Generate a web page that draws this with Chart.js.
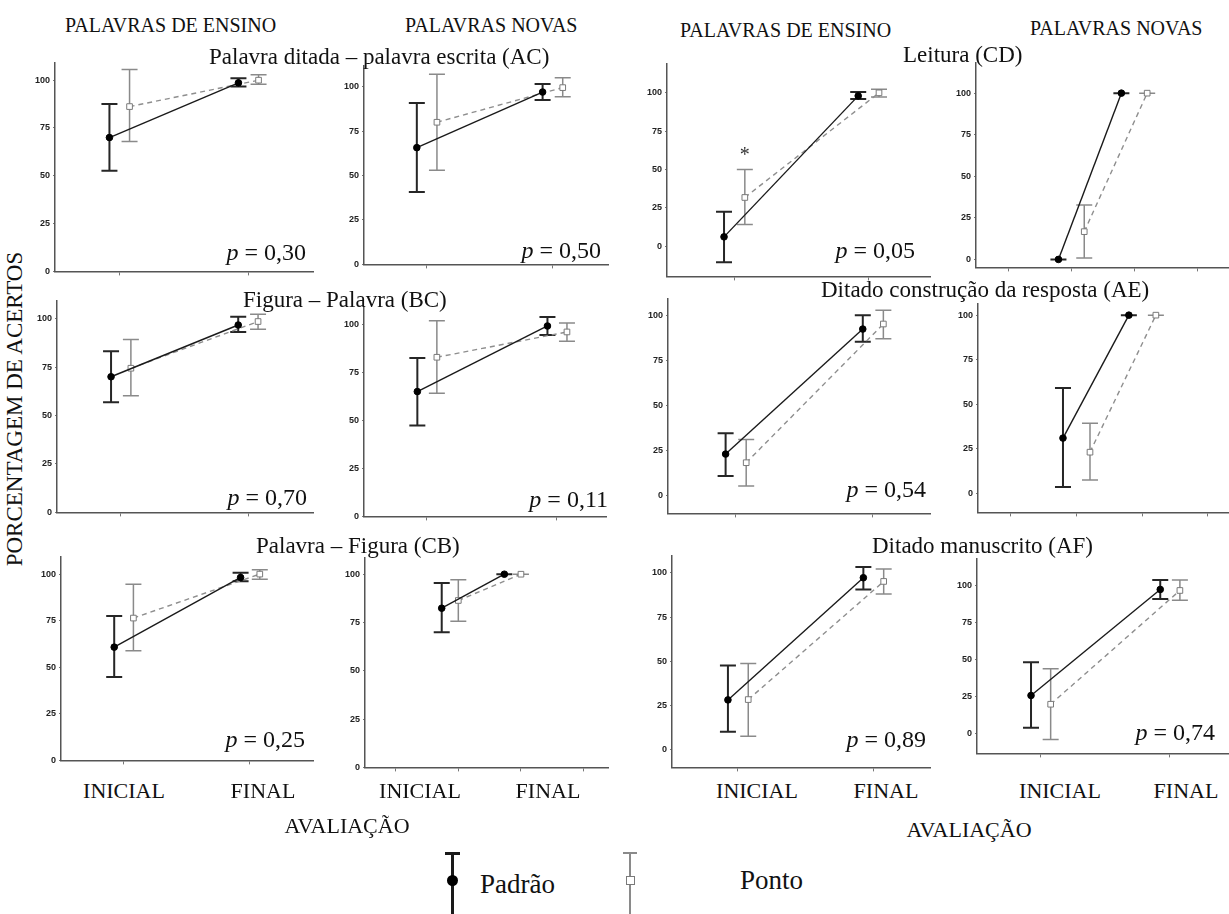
<!DOCTYPE html>
<html lang="pt">
<head>
<meta charset="utf-8">
<script src="https://cdn.jsdelivr.net/npm/chart.js@4.4.1/dist/chart.umd.min.js"></script>
<style>
  body { margin: 0; width: 1229px; height: 914px; background: #fff; position: relative; overflow: hidden;
         font-family: 'Liberation Serif', 'Times New Roman', serif; color: #111; }
  .painel { position: absolute; }
  .painel canvas { display: block; }
  .txt { position: absolute; white-space: nowrap; line-height: 1; }
  .leg { position: absolute; }
</style>
</head>
<body>
<script>
// avaliações e escala do eixo y
const categorias = ['INICIAL', 'FINAL'];
const yTicks = [0, 25, 50, 75, 100];

// médias e intervalos por painel, [INICIAL, FINAL]
// ordem: AC ensino, AC novas, CD ensino, CD novas, BC ensino, BC novas,
//        AE ensino, AE novas, CB ensino, CB novas, AF ensino, AF novas
const padraoMedia = [[70, 98.6], [65.7, 97], [6, 98], [0, 100], [70, 96.7], [65.1, 99.3],
                     [23.1, 92.4], [31, 100], [60.8, 98.2], [82.4, 100], [28.2, 97.2], [25.9, 97.3]];
const padraoBaixo = [[52.7, 96.7], [40.8, 92.5], [-10.6, 95.9], [0, 100], [56.8, 93.1], [47.4, 94.6],
                     [10.9, 85.4], [3.6, 100], [44.7, 96.2], [70, 100], [10.2, 90.6], [4.1, 90.8]];
const padraoAlto  = [[87.6, 101], [90.8, 101.6], [22.4, 100.6], [0, 100], [83.1, 100.9], [82.6, 104],
                     [34.6, 100], [59.1, 100], [77.5, 100.7], [95.5, 100], [47.6, 103.2], [48.2, 103.6]];
const pontoMedia  = [[86.2, 100], [80, 99.5], [31.7, 100], [16.7, 100], [74.4, 98.5], [83, 96.2],
                     [18.3, 95.2], [23.1, 100], [76.4, 100], [86.4, 100], [28.4, 95.1], [20, 96.6]];
const pontoBaixo  = [[67.9, 97.9], [53, 94.4], [14, 97.2], [0.8, 100], [60.2, 94.5], [64.2, 91.3],
                     [5.4, 87], [7.5, 100], [58.9, 97.3], [75.7, 100], [7.7, 88], [-3.8, 90.1]];
const pontoAlto   = [[105.6, 102.8], [107, 105], [50, 102.4], [32.7, 100], [89.2, 102.2], [102.1, 100.9],
                     [31.2, 102.8], [39.4, 100], [94.5, 102.3], [97.1, 100], [48.7, 102.1], [43.9, 103.6]];
const valoresP = ['0,30', '0,50', '0,05', null, '0,70', '0,11', '0,54', null, '0,25', null, '0,89', '0,74'];
const significativos = [{ painel: 2, serie: 1, avaliacao: 0 }];

// área de plotagem de cada painel (px) e faixas dos eixos
const paineis = [
  { x: 55,  y: 62,  w: 258, h: 209, yMin: 0,     yMax: 109.3, xMin: 0.5,   xMax: 2.5,  xTicks: [1, 2],       desloc: [-0.078, 0.078] },
  { x: 364, y: 65,  w: 244, h: 199, yMin: 0,     yMax: 112,   xMin: 0.5,   xMax: 2.44, xTicks: [1, 2],       desloc: [-0.08, 0.08] },
  { x: 667, y: 63,  w: 263, h: 213, yMin: -19.8, yMax: 119.2, xMin: 0.5,   xMax: 2.46, xTicks: [1, 2],       desloc: [-0.075, 0.08] },
  { x: 976, y: 62,  w: 253, h: 205, yMin: -4.8,  yMax: 118.5, xMin: -0.52, xMax: 3.5,  xTicks: [0, 1, 2, 3], desloc: [-0.21, 0.2] },
  { x: 57,  y: 300, w: 256, h: 212, yMin: 0,     yMax: 109.4, xMin: 0.497, xMax: 2.51, xTicks: [1, 2],       desloc: [-0.078, 0.078] },
  { x: 364, y: 307, w: 242, h: 209, yMin: 0,     yMax: 109,   xMin: 0.52,  xMax: 2.38, xTicks: [1, 2],       desloc: [-0.07, 0.08] },
  { x: 668, y: 298, w: 262, h: 215, yMin: -9.8,  yMax: 109.4, xMin: 0.51,  xMax: 2.42, xTicks: [1, 2],       desloc: [-0.07, 0.08] },
  { x: 978, y: 303, w: 251, h: 209, yMin: -10.7, yMax: 106.6, xMin: -0.49, xMax: 3.32, xTicks: [0, 1, 2, 3], desloc: [-0.2, 0.21] },
  { x: 61,  y: 556, w: 252, h: 204, yMin: 0,     yMax: 109.5, xMin: 0.506, xMax: 2.5,  xTicks: [1, 2],       desloc: [-0.073, 0.079] },
  { x: 365, y: 557, w: 243, h: 210, yMin: 0,     yMax: 108.7, xMin: -0.49, xMax: 3.39, xTicks: [0, 1, 2, 3], desloc: [-0.265, 0] },
  { x: 672, y: 555, w: 258, h: 212, yMin: -9.9,  yMax: 109.8, xMin: 0.515, xMax: 2.42, xTicks: [1, 2],       desloc: [-0.072, 0.078] },
  { x: 977, y: 558, w: 252, h: 195, yMin: -13.1, yMax: 118.2, xMin: 0.51,  xMax: 2.46, xTicks: [1, 2],       desloc: [-0.072, 0.08] }
];
// posição do texto "p = ..." (borda direita, linha de base)
const posP = [[306, 260], [601, 258], [915, 258], null, [307, 505], [608, 507], [926, 497], null,
              [305, 747], null, [926, 747], [1215, 740]];

const estilos = [
  { linha: '#1a1a1a', erro: '#262626', larguraErro: 2, dash: [], ponto: 'circle', raio: 3.3, fundo: '#000', borda: '#000' },
  { linha: '#8e8e8e', erro: '#8a8a8a', larguraErro: 1.5, dash: [5, 4], ponto: 'rect', raio: 4, fundo: '#fff', borda: '#7a7a7a' }
];

// barras de erro com traço no topo e na base
const barrasErro = {
  id: 'barrasErro',
  beforeDatasetsDraw(chart) {
    const { ctx, scales: { x, y } } = chart;
    chart.data.datasets.forEach(ds => {
      ds.erros.forEach((e, j) => {
        const px = x.getPixelForValue(ds.data[j].x);
        const top = y.getPixelForValue(e[1]);
        const bot = y.getPixelForValue(e[0]);
        ctx.save();
        ctx.strokeStyle = ds.corErro;
        ctx.lineWidth = ds.larguraErro;
        ctx.beginPath();
        ctx.moveTo(px, top); ctx.lineTo(px, bot);
        ctx.moveTo(px - 8, top); ctx.lineTo(px + 8, top);
        ctx.moveTo(px - 8, bot); ctx.lineTo(px + 8, bot);
        ctx.stroke();
        ctx.restore();
      });
    });
  }
};

// asterisco sobre a diferença significativa
const asterisco = {
  id: 'asterisco',
  afterDatasetsDraw(chart, args, opts) {
    const { ctx, scales: { x, y } } = chart;
    (opts.marcas || []).forEach(m => {
      const ds = chart.data.datasets[m.serie];
      const px = x.getPixelForValue(ds.data[m.avaliacao].x);
      const py = y.getPixelForValue(ds.erros[m.avaliacao][1]);
      ctx.save();
      ctx.fillStyle = '#333';
      ctx.font = '20px "Liberation Serif"';
      ctx.textAlign = 'center';
      ctx.textBaseline = 'alphabetic';
      ctx.fillText('*', px, py - 8);
      ctx.restore();
    });
  }
};

function criarPainel(i) {
  const L = paineis[i];
  const series = [
    { nome: 'Padrão', media: padraoMedia[i], baixo: padraoBaixo[i], alto: padraoAlto[i] },
    { nome: 'Ponto', media: pontoMedia[i], baixo: pontoBaixo[i], alto: pontoAlto[i] }
  ];
  const datasets = series.map((s, k) => ({
    label: s.nome,
    data: categorias.map((c, j) => ({ x: j + 1 + L.desloc[k], y: s.media[j] })),
    erros: categorias.map((c, j) => [s.baixo[j], s.alto[j]]),
    showLine: true,
    borderColor: estilos[k].linha,
    borderWidth: 1.4,
    borderDash: estilos[k].dash,
    pointStyle: estilos[k].ponto,
    pointRadius: estilos[k].raio,
    pointBackgroundColor: estilos[k].fundo,
    pointBorderColor: estilos[k].borda,
    pointBorderWidth: 1,
    corErro: estilos[k].erro,
    larguraErro: estilos[k].larguraErro,
    clip: false
  }));

  const wrap = document.createElement('div');
  wrap.className = 'painel';
  const cv = document.createElement('canvas');
  cv.width = L.w + 40;
  cv.height = L.h + 30;
  wrap.appendChild(cv);
  document.body.appendChild(wrap);

  const chart = new Chart(cv, {
    type: 'scatter',
    data: { datasets },
    options: {
      responsive: false,
      maintainAspectRatio: false,
      animation: false,
      events: [],
      layout: { padding: { top: 8, right: 2 } },
      plugins: {
        legend: { display: false },
        tooltip: { enabled: false },
        asterisco: { marcas: significativos.filter(m => m.painel === i) }
      },
      scales: {
        x: {
          type: 'linear', min: L.xMin, max: L.xMax,
          afterBuildTicks: s => { s.ticks = L.xTicks.map(v => ({ value: v })); },
          afterFit: s => { s.height = 6; },
          ticks: { display: false },
          grid: { drawOnChartArea: false, tickLength: 4, color: '#777' },
          border: { color: '#555', width: 1.5 }
        },
        y: {
          min: L.yMin, max: L.yMax,
          afterBuildTicks: s => { s.ticks = yTicks.filter(v => v >= s.min && v <= s.max).map(v => ({ value: v })); },
          afterFit: s => { s.width = 26; },
          ticks: { font: { family: 'Liberation Sans', size: 9, weight: 'bold' }, color: '#222', padding: 3 },
          grid: { drawOnChartArea: false, tickLength: 2, color: '#777' },
          border: { color: '#555', width: 1.5 }
        }
      }
    },
    plugins: [barrasErro, asterisco]
  });

  // ajusta o canvas para a área de plotagem ter o tamanho pedido
  const a = chart.chartArea;
  chart.resize(chart.width + L.w - (a.right - a.left), chart.height + L.h - (a.bottom - a.top));
  const b = chart.chartArea;
  wrap.style.left = (L.x - b.left) + 'px';
  wrap.style.top = (L.y - b.top) + 'px';
}

function texto(html, x, base, size, align, extra) {
  const d = document.createElement('div');
  d.className = 'txt';
  d.innerHTML = html;
  d.style.fontSize = size + 'px';
  d.style.left = x + 'px';
  d.style.top = (base - 0.84 * size) + 'px';
  if (align === 'center') d.style.transform = 'translateX(-50%)';
  if (align === 'right') d.style.transform = 'translateX(-100%)';
  if (extra) Object.assign(d.style, extra);
  document.body.appendChild(d);
  return d;
}

paineis.forEach((p, i) => criarPainel(i));

// cabeçalhos das colunas
texto('PALAVRAS DE ENSINO', 65, 32, 20);
texto('PALAVRAS NOVAS', 405, 32, 20);
texto('PALAVRAS DE ENSINO', 680, 37, 20);
texto('PALAVRAS NOVAS', 1030, 35, 20);

// títulos das tarefas
texto('Palavra ditada – palavra escrita (AC)', 209, 64, 23);
texto('Leitura (CD)', 903, 62, 23);
texto('Figura – Palavra (BC)', 243, 307, 23);
texto('Ditado construção da resposta (AE)', 821, 297, 23);
texto('Palavra – Figura (CB)', 256, 553, 23);
texto('Ditado manuscrito (AF)', 872, 553, 23);

// valores de p
valoresP.forEach((v, i) => {
  if (v) texto('<i>p</i> = ' + v, posP[i][0], posP[i][1], 24, 'right');
});

// rótulos das avaliações e títulos dos eixos
[[124, 263], [420, 548], [757, 886], [1060, 1186]].forEach(par => {
  par.forEach((cx, j) => texto(categorias[j], cx, 798, 22, 'center'));
});
texto('AVALIAÇÃO', 347, 833, 22, 'center');
texto('AVALIAÇÃO', 969, 837, 22, 'center');
texto('PORCENTAGEM DE ACERTOS', 14, 409, 23, null,
      { transform: 'translate(-50%, -50%) rotate(-90deg)', top: '409px' });

// legenda
function leg(css) {
  const d = document.createElement('div');
  d.className = 'leg';
  Object.assign(d.style, css);
  document.body.appendChild(d);
}
leg({ left: '451px', top: '852px', width: '2.5px', height: '62px', background: '#1a1a1a' });
leg({ left: '445px', top: '852px', width: '15px', height: '2.5px', background: '#1a1a1a' });
leg({ left: '447px', top: '875px', width: '11px', height: '11px', borderRadius: '50%', background: '#000' });
texto('Padrão', 480, 894, 27);
leg({ left: '629px', top: '852px', width: '2px', height: '62px', background: '#8a8a8a' });
leg({ left: '623px', top: '852px', width: '14px', height: '2px', background: '#8a8a8a' });
leg({ left: '626px', top: '876px', width: '7px', height: '7px', background: '#fff', border: '1px solid #7a7a7a' });
texto('Ponto', 740, 890, 27);
</script>
</body>
</html>
